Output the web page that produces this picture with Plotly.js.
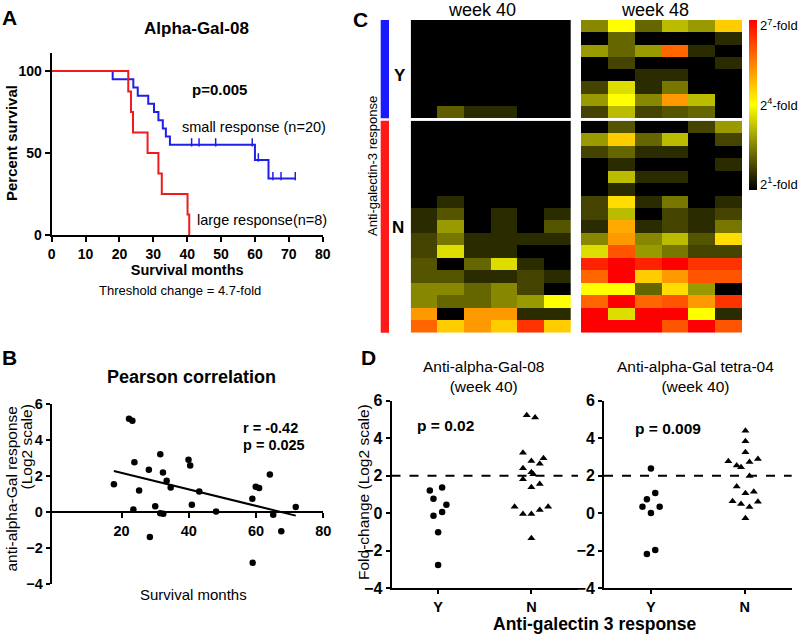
<!DOCTYPE html>
<html><head><meta charset="utf-8">
<script src="https://cdn.plot.ly/plotly-3.0.1.min.js"></script>
<style>body{margin:0;background:#fff}#chart{width:800px;height:635px}</style>
</head><body><div id="chart"></div>
<script>
// ---------- Panel A: Kaplan-Meier (Alpha-Gal-08) ----------
const kmSmallTimes  = [0, 18.0, 24.1, 25.4, 28.5, 30.2, 31.5, 32.8, 33.7, 34.9, 60.0, 64.0, 71.9];
const kmSmallSurv   = [100, 95, 90, 85, 80, 75, 70, 65, 60, 55, 45.8, 34.4, 34.4];
const kmSmallCensor = [41.3, 43.5, 48.4, 59.2, 61.0, 65.3, 67.7, 71.9];
const kmLargeTimes  = [0, 22.6, 23.4, 24.0, 28.3, 31.5, 32.5, 40.1, 40.6];
const kmLargeSurv   = [100, 87.5, 75, 62.5, 50, 37.5, 25, 12.5, 0];
const kmXTicks = [0,10,20,30,40,50,60,70,80];
const kmYTicks = [0,50,100];

// ---------- Panel B: Pearson correlation ----------
const corrMonths = [17.7,22.2,23.2,23.8,23.5,25.2,28.1,28.4,30.0,31.5,31.5,32.3,32.4,33.4,34.6,39.9,40.4,40.9,43.1,48.1,58.9,59.0,59.9,60.9,64.1,65.1,67.5,71.8];
const corrResponse = [1.55,5.2,5.08,2.77,0.15,1.21,2.36,-1.39,0.32,3.22,-0.06,2.21,-0.09,1.75,1.37,2.92,2.6,0.41,1.15,0.04,0.74,-2.82,1.41,1.34,2.1,-0.15,-1.06,0.28];
const corrXTicks = [20,40,60,80];
const corrYTicks = [-4,-2,0,2,4,6];

// ---------- Panel C: heatmaps (log2 fold change, 2^1 .. 2^7) ----------
const heatCols = [0,1,2,3,4,5];
const wk40Y = [
 [1,1,1,1,1,1],[1,1,1,1,1,1],[1,1,1,1,1,1],[1,1,1,1,1,1],
 [1,1,1,1,1,1],[1,1,1,1,1,1],[1,1,1,1,1,1],[1,2.1,1.5,1.5,1,1]];
const wk40N = [
 [1,1,1,1,1,1],[1,1,1,1,1,1],[1,1,1,1,1,1],[1,1,1,1,1,1],[1,1,1,1,1,1],[1,1,1,1,1,1],
 [1,1.5,1,1,1,1],
 [1.5,2.0,1,1.5,1,1.5],
 [1.5,2.8,1,1.5,1,2.0],
 [1.8,2.4,1.5,1.5,1.5,1.5],
 [1.8,3.6,1.5,1.5,1,1],
 [2.0,1,2.2,3.6,1.5,1],
 [2.0,2.0,1.5,1.5,1.8,1.5],
 [2.6,2.6,2.2,2.6,1.8,1],
 [2.6,2.2,2.2,2.6,2.8,4.0],
 [5.2,1,5.2,5.2,1.5,1.5],
 [5.8,4.6,5.2,4.6,6.4,4.6]];
const wk48Y = [
 [2.6,4.0,2.2,3.2,2.8,4.6],
 [1,2.2,1,1,1,1.5],
 [2.8,2.2,2.8,5.8,1.5,1],
 [1,1.8,1,1,1,1.5],
 [1,1,1.5,1.5,1,1],
 [1.8,3.6,1.5,2.4,1,1],
 [2.8,4.0,2.6,5.2,3.2,1],
 [1.8,3.2,1.8,2.0,2.2,1]];
const wk48N = [
 [1,2.0,1,1,1.8,2.8],
 [2.8,4.6,2.2,3.2,1,1.8],
 [1.8,2.2,1.5,1.5,1,1],
 [1,1.5,1,1,1,1.5],
 [1,3.2,1.5,1.5,1,1],
 [1,1.5,1,1,1,1],
 [1.8,4.4,1.5,2.4,1,1.5],
 [1.8,3.2,1,1.8,1.5,1.8],
 [1.5,5.0,1.5,1.8,1.5,2.4],
 [2.6,5.2,2.6,3.2,2.0,4.4],
 [3.6,6.0,2.8,2.4,1.8,1.8],
 [6.6,7,6.6,7,6.4,6.4],
 [5.8,7,4.6,5.2,6.0,6.0],
 [4.0,4.0,2.2,4.4,2.8,1],
 [5.8,7,5.8,6.0,5.2,6.4],
 [7,3.6,7,7,4.0,1.5],
 [7,7,7,6.0,7,6.0]];
const heatTickVals = [1.2, 4, 6.8];
const heatTickText = ['2<sup>1</sup>-fold','2<sup>4</sup>-fold','2<sup>7</sup>-fold'];

// ---------- Panel D: dot plots (week 40) ----------
const dCategories = ['Y','N'];
const d08YJitter = [-0.089,-0.05,-0.05,0,0,0.043,0.043,0.089];
const d08YVals   = [1.21,0.78,-0.13,-1.01,-2.76,1.37,0.07,0.46];
const d08NJitter = [-0.05,0.04,-0.09,0,0.13,0.09,-0.09,0,0.02,-0.09,0.09,0,-0.18,0.18,-0.09,0,0.09,0];
const d08NVals   = [5.22,5.1,3.23,2.79,2.93,2.64,2.4,2.18,2.08,1.81,1.56,1.39,0.35,0.35,-0.04,-0.04,0.18,-1.33];
const dT04YJitter = [0,0.046,-0.043,-0.09,0.093,0,-0.043,0.046];
const dT04YVals   = [2.38,1.08,0.75,0.35,0.35,0.02,-2.17,-1.96];
const dT04NJitter = [0.007,0.007,0.007,-0.175,0.14,0.05,-0.086,-0.04,0.05,-0.086,0.007,0.096,-0.13,-0.04,0.05,0.14,0.007];
const dT04NVals   = [4.40,3.84,3.25,2.77,2.89,2.73,2.54,2.45,1.99,1.42,1.07,1.14,0.64,0.50,0.34,0.62,-0.27];
const dThreshold = 2;
const dYTicks = [-4,-2,0,2,4,6];

// ---------- helpers ----------
const W = 800, H = 635;
const dx = (a,b) => [a/W, b/W];
const dy = (top,bottom) => [1-bottom/H, 1-top/H];
const px = a => a/W, py = b => 1-b/H;
function survAt(times, surv, t){ let s = surv[0]; for (let i=0;i<times.length;i++){ if (times[i] <= t) s = surv[i]; } return s; }
function linfit(x, y){
  const n=x.length; const mx=x.reduce((a,b)=>a+b,0)/n, my=y.reduce((a,b)=>a+b,0)/n;
  let sxy=0,sxx=0; for(let i=0;i<n;i++){sxy+=(x[i]-mx)*(y[i]-my); sxx+=(x[i]-mx)**2;}
  const m=sxy/sxx; return {m, b: my-m*mx};
}
const fit = linfit(corrMonths, corrResponse);
const fitX = [Math.min(...corrMonths), Math.max(...corrMonths)];
const fitY = fitX.map(v => fit.m*v + fit.b);

const FONT = 'Arial, "Liberation Sans", Helvetica, sans-serif';
const heatScale = [[0,'#000000'],[0.5,'#ffff00'],[1,'#ff0000']];

const traces = [
  // Panel A
  {type:'scatter', mode:'lines', x:kmSmallTimes, y:kmSmallSurv, line:{shape:'hv', color:'#1f1fe8', width:2}, xaxis:'x', yaxis:'y', cliponaxis:false},
  {type:'scatter', mode:'markers', x:kmSmallCensor, y:kmSmallCensor.map(t=>survAt(kmSmallTimes,kmSmallSurv,t)+1.5), marker:{symbol:'line-ns', size:6, line:{width:1.5, color:'#1f1fe8'}}, xaxis:'x', yaxis:'y', cliponaxis:false},
  {type:'scatter', mode:'lines', x:kmLargeTimes, y:kmLargeSurv, line:{shape:'hv', color:'#ee1c1c', width:2}, xaxis:'x', yaxis:'y', cliponaxis:false},
  // Panel B
  {type:'scatter', mode:'markers', x:corrMonths, y:corrResponse, marker:{color:'#000', size:6.5}, xaxis:'x2', yaxis:'y2', cliponaxis:false},
  {type:'scatter', mode:'lines', x:fitX, y:fitY, line:{color:'#000', width:2}, xaxis:'x2', yaxis:'y2'},
  // Panel C
  {type:'heatmap', z:wk40Y, x:heatCols, y:wk40Y.map((r,i)=>i), xaxis:'x3', yaxis:'y3', colorscale:heatScale, zmin:1, zmax:7, showscale:false},
  {type:'heatmap', z:wk48Y, x:heatCols, y:wk48Y.map((r,i)=>i), xaxis:'x4', yaxis:'y3', colorscale:heatScale, zmin:1, zmax:7, showscale:false},
  {type:'heatmap', z:wk40N, x:heatCols, y:wk40N.map((r,i)=>i), xaxis:'x3', yaxis:'y4', colorscale:heatScale, zmin:1, zmax:7, showscale:false},
  {type:'heatmap', z:wk48N, x:heatCols, y:wk48N.map((r,i)=>i), xaxis:'x4', yaxis:'y4', colorscale:heatScale, zmin:1, zmax:7, showscale:true,
    colorbar:{x:px(749), xanchor:'left', xpad:0, y:py(20), yanchor:'top', ypad:0, len:170, lenmode:'pixels', thickness:8, thicknessmode:'pixels',
      outlinewidth:0, tickvals:heatTickVals, ticktext:heatTickText, ticks:'', ticklen:0, tickfont:{size:13, color:'#000'}}},
  // Panel D
  {type:'scatter', mode:'markers', x:d08YJitter.map(j=>0+j), y:d08YVals, marker:{color:'#000', size:6.5}, xaxis:'x5', yaxis:'y5', cliponaxis:false},
  {type:'scatter', mode:'markers', x:d08NJitter.map(j=>1+j), y:d08NVals, marker:{color:'#000', size:7, symbol:'triangle-up'}, xaxis:'x5', yaxis:'y5', cliponaxis:false},
  {type:'scatter', mode:'markers', x:dT04YJitter.map(j=>0+j), y:dT04YVals, marker:{color:'#000', size:6.5}, xaxis:'x6', yaxis:'y6', cliponaxis:false},
  {type:'scatter', mode:'markers', x:dT04NJitter.map(j=>1+j), y:dT04NVals, marker:{color:'#000', size:7, symbol:'triangle-up'}, xaxis:'x6', yaxis:'y6', cliponaxis:false}
];

const axBase = {showline:true, linecolor:'#000', linewidth:2, ticks:'outside', ticklen:5, tickwidth:2, tickcolor:'#000',
  showgrid:false, zeroline:false, tickfont:{size:14, weight:'bold', color:'#000'}, fixedrange:true};
const hidden = {showline:false, showgrid:false, zeroline:false, showticklabels:false, ticks:'', fixedrange:true};

const bY = dy(404.3, 584);
const bZeroPos = bY[0] + (0 - (-4)) / 10 * (bY[1]-bY[0]);

const layout = {
  width:W, height:H, margin:{l:0,r:0,t:0,b:0}, showlegend:false,
  paper_bgcolor:'#fff', plot_bgcolor:'rgba(0,0,0,0)',
  font:{family:FONT, color:'#000'},
  xaxis:{...axBase, domain:dx(51.7,322.7), range:[0,80], tickvals:kmXTicks, anchor:'y',
    title:{text:'Survival months', font:{size:14.5, weight:'bold'}, standoff:3}},
  yaxis:{...axBase, domain:dy(53,235), range:[0,111], tickvals:kmYTicks, anchor:'x'},
  xaxis2:{...axBase, domain:dx(51.7,323.3), range:[-0.8,80], tickvals:corrXTicks, anchor:'free', position:bZeroPos, tickfont:{size:14.5, weight:'bold'}},
  yaxis2:{...axBase, domain:bY, range:[-4,6], tickvals:corrYTicks, anchor:'x2', ticklen:4, tickfont:{size:14.5, weight:'bold'}},
  xaxis3:{...hidden, domain:dx(410.7,571), range:[-0.5,5.5], anchor:'y4'},
  xaxis4:{...hidden, domain:dx(581,742.3), range:[-0.5,5.5], anchor:'y4'},
  yaxis3:{...hidden, domain:dy(20,118.3), range:[7.5,-0.5], anchor:'x3'},
  yaxis4:{...hidden, domain:dy(120.7,332.7), range:[16.5,-0.5], anchor:'x3'},
  xaxis5:{...axBase, domain:dx(391.5,578), range:[-0.5,1.5], tickvals:[0,1], ticktext:dCategories, anchor:'y5', ticklen:4, tickfont:{size:14.5, weight:'bold'}},
  yaxis5:{...axBase, domain:dy(400.7,588.3), range:[-4,6], tickvals:dYTicks, anchor:'x5', ticklen:4, tickfont:{size:16, weight:'bold'}},
  xaxis6:{...axBase, domain:dx(604,791.7), range:[-0.5,1.5], tickvals:[0,1], ticktext:dCategories, anchor:'y6', ticklen:4, tickfont:{size:14.5, weight:'bold'}},
  yaxis6:{...axBase, domain:dy(400.7,588.3), range:[-4,6], tickvals:dYTicks, anchor:'x6', ticklen:4, tickfont:{size:16, weight:'bold'}},
  shapes:[
    {type:'line', xref:'x5 domain', x0:0, x1:1, yref:'y5', y0:dThreshold, y1:dThreshold, line:{color:'#000', width:2, dash:'dash'}},
    {type:'line', xref:'x6 domain', x0:0, x1:1, yref:'y6', y0:dThreshold, y1:dThreshold, line:{color:'#000', width:2, dash:'dash'}},
    {type:'rect', xref:'paper', x0:px(380.7), x1:px(389), yref:'y3 domain', y0:0, y1:1, fillcolor:'#1a1aff', line:{width:0}},
    {type:'rect', xref:'paper', x0:px(380.7), x1:px(389), yref:'y4 domain', y0:0, y1:1, fillcolor:'#ff1a1a', line:{width:0}}
  ],
  annotations:[]
};

function ann(text, x, y, size, opts){
  layout.annotations.push(Object.assign({text, xref:'paper', yref:'paper', x:px(x), y:py(y), xanchor:'center', yanchor:'middle',
    showarrow:false, font:{size, color:'#000'}}, opts||{}));
}
ann('<b>A</b>', 9, 17, 21);
ann('<b>Alpha-Gal-08</b>', 196, 28, 17);
ann('<b>Percent survival</b>', 12, 143, 15, {textangle:-90});
ann('<b>p=0.005</b>', 219, 90, 15);
ann('small response (n=20)', 180, 127, 14.5, {xanchor:'left'});
ann('large response(n=8)', 195, 220, 14.5, {xanchor:'left'});
ann('Threshold change = 4.7-fold', 180, 290, 13);
ann('<b>B</b>', 9, 357, 21);
ann('<b>Pearson correlation</b>', 191, 377, 18);
ann('anti-alpha-Gal response', 10.5, 489, 15.5, {textangle:-90});
ann('(Log2 scale)', 26.5, 447, 15.5, {textangle:-90});
ann('<b>r = -0.42</b>', 241, 428, 14.5, {xanchor:'left'});
ann('<b>p = 0.025</b>', 241, 445, 14.5, {xanchor:'left'});
ann('Survival months', 193, 594, 15);
ann('<b>C</b>', 360, 20, 21);
ann('week 40', 482, 10, 18);
ann('week 48', 655, 10, 18);
ann('<b>Y</b>', 400, 75, 17);
ann('<b>N</b>', 398, 227, 17);
ann('Anti-galectin-3 response', 372, 166, 13, {textangle:-90});
ann('<b>D</b>', 368, 357, 21);
ann('Fold-change (Log2 scale)', 363, 492, 15.5, {textangle:-90});
ann('Anti-alpha-Gal-08<br>(week 40)', 483, 376.5, 15.5);
ann('Anti-alpha-Gal tetra-04<br>(week 40)', 695, 376.5, 15.5);
ann('<b>p = 0.02</b>', 415, 425, 15.5, {xanchor:'left'});
ann('<b>p = 0.009</b>', 633, 428, 15.5, {xanchor:'left'});
ann('<b>Anti-galectin 3 response</b>', 595, 624, 17.5);

Plotly.newPlot('chart', traces, layout, {staticPlot:true, displayModeBar:false});
</script></body></html>
